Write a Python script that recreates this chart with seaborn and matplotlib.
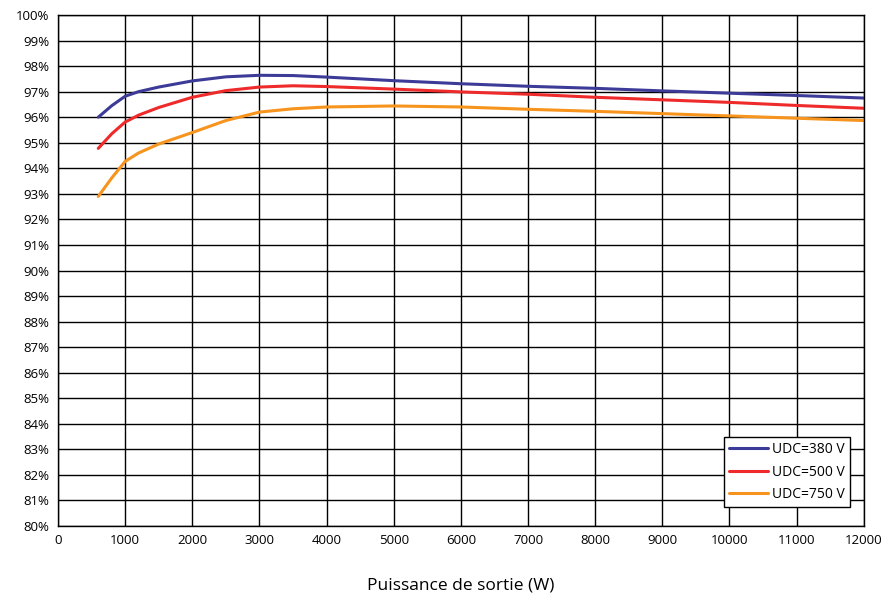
import pandas as pd
import seaborn as sns
import matplotlib.pyplot as plt
from matplotlib.ticker import MultipleLocator, FuncFormatter

power_w = [600, 800, 1000, 1200, 1500, 2000, 2500, 3000, 3500, 4000, 5000,
           6000, 7000, 8000, 9000, 10000, 11000, 12000]
eff_380 = [96.0, 96.45, 96.82, 97.0, 97.18, 97.42, 97.58, 97.64, 97.63, 97.57,
           97.43, 97.31, 97.21, 97.13, 97.03, 96.94, 96.85, 96.75]
eff_500 = [94.78, 95.35, 95.81, 96.08, 96.38, 96.78, 97.04, 97.18, 97.23, 97.2,
           97.1, 96.99, 96.9, 96.78, 96.68, 96.58, 96.46, 96.35]
eff_750 = [92.9, 93.62, 94.27, 94.6, 94.95, 95.4, 95.87, 96.2, 96.33, 96.4,
           96.44, 96.4, 96.31, 96.23, 96.14, 96.05, 95.96, 95.87]
series = ["UDC=380 V", "UDC=500 V", "UDC=750 V"]
colors = ["#3c3c98", "#ee2a2a", "#f7941d"]

df = pd.concat([
    pd.DataFrame({"P": power_w, "eff": vals, "serie": name})
    for name, vals in zip(series, [eff_380, eff_500, eff_750])
])

sns.set_style("white")
plt.rcParams["font.family"] = ["Open Sans", "DejaVu Sans"]
plt.rcParams["text.color"] = "black"
plt.rcParams["xtick.color"] = "black"
plt.rcParams["ytick.color"] = "black"
plt.rcParams["axes.labelcolor"] = "black"

fig = plt.figure(figsize=(8.84, 6.10), dpi=100)
ax = fig.add_axes([0.0656, 0.1377, 0.9115, 0.8377])

sns.lineplot(data=df, x="P", y="eff", hue="serie", palette=colors,
             linewidth=2.2, ax=ax, sort=True)

ax.set_xlim(0, 12000)
ax.set_ylim(80, 100)
ax.xaxis.set_major_locator(MultipleLocator(1000))
ax.yaxis.set_major_locator(MultipleLocator(1))
ax.yaxis.set_major_formatter(FuncFormatter(lambda v, p: f"{v:.0f}%"))
ax.grid(True, color="black", linewidth=1)
ax.set_axisbelow(True)
for s in ax.spines.values():
    s.set_color("black")
    s.set_linewidth(1)
ax.tick_params(axis="both", length=0, labelsize=9.5, pad=6)
ax.set_ylabel("")
ax.set_xlabel("Puissance de sortie (W)", fontsize=12.5, labelpad=22)

leg = ax.legend(loc="lower right", bbox_to_anchor=(0.9826, 0.037),
                borderaxespad=0, fontsize=10, frameon=True, fancybox=False,
                edgecolor="black", framealpha=1, handlelength=2.8,
                borderpad=0.35, labelspacing=0.55, handletextpad=0.3)
leg.get_frame().set_linewidth(1)

plt.savefig("out.png", dpi=100)
